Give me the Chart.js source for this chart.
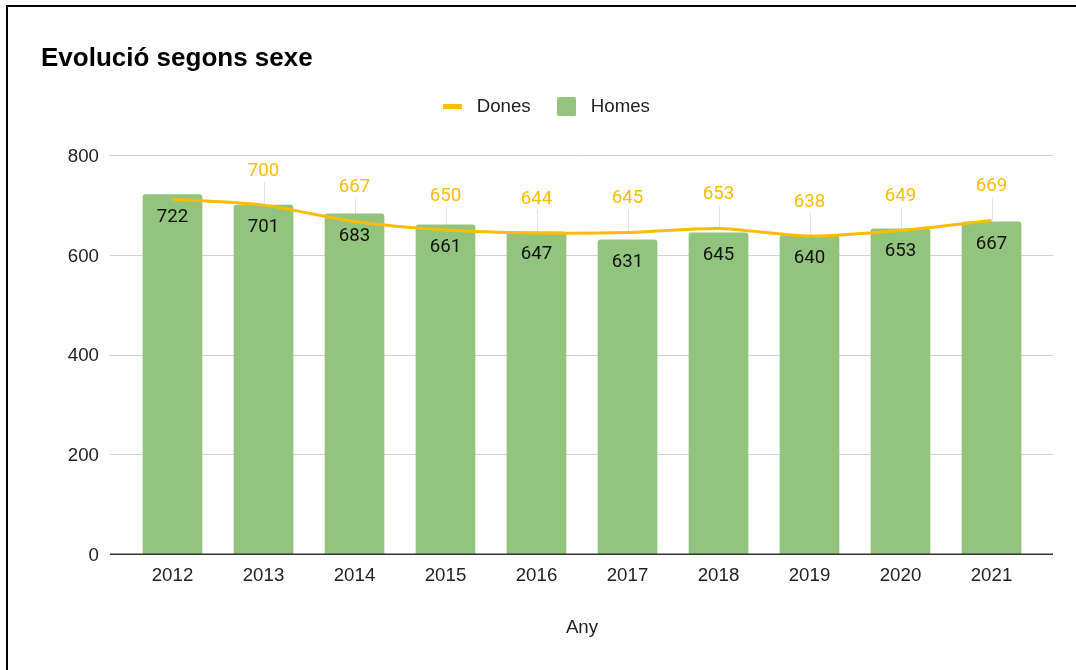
<!DOCTYPE html>
<html>
<head>
<meta charset="utf-8">
<script src="https://cdn.jsdelivr.net/npm/chart.js@4.4.0/dist/chart.umd.min.js"></script>
<style>
  body { margin: 0; background: #fff; overflow: hidden; }
  #frame { position: absolute; left: 6px; top: 5px; width: 1200px; height: 800px; border: 2px solid #000; }
  #wrap { position: absolute; left: 0; top: 0; width: 1076px; height: 670px; }
</style>
</head>
<body>
<div id="frame"></div>
<div id="wrap"><canvas id="myChart"></canvas></div>
<script>
var years = ['2012', '2013', '2014', '2015', '2016', '2017', '2018', '2019', '2020', '2021'];
var dones = [712, 700, 667, 650, 644, 645, 653, 638, 649, 669];
var homes = [722, 701, 683, 661, 647, 631, 645, 640, 653, 667];
var yMin = 0, yMax = 800, yStep = 200;

var chartTitle = 'Evolució segons sexe';
var axisTitle = 'Any';

var yellow = '#fbbc04';
var green = '#93c47d';
var fs = 18.67;

// little legend markers
function marker(w, h, color, r) {
  var c = document.createElement('canvas');
  c.width = w; c.height = h;
  var x = c.getContext('2d');
  x.fillStyle = color;
  x.beginPath();
  if (x.roundRect) x.roundRect(0, 0, w, h, r); else x.rect(0, 0, w, h);
  x.fill();
  return c;
}
var lineMark = marker(19, 5, yellow, 0);
var boxMark = marker(19, 19, green, 2);

var extras = {
  id: 'extras',
  beforeDatasetsDraw: function (chart) {
    var ctx = chart.ctx, area = chart.chartArea, y = chart.scales.y;
    ctx.save();
    // grid lines run a bit wider than the bars' area
    ctx.strokeStyle = '#d3d3d3';
    ctx.lineWidth = 1;
    for (var v = yMin + yStep; v <= yMax; v += yStep) {
      var py = Math.round(y.getPixelForValue(v)) + 0.5;
      ctx.beginPath(); ctx.moveTo(area.left - 17, py); ctx.lineTo(area.right + 16, py); ctx.stroke();
    }
    // leader lines for the Dones labels
    var meta = chart.getDatasetMeta(0);
    ctx.strokeStyle = '#e3e3e3';
    meta.data.forEach(function (pt, i) {
      if (i === 0) return;
      var px = Math.round(pt.x) + 0.5;
      ctx.beginPath(); ctx.moveTo(px, pt.y - 23); ctx.lineTo(px, pt.y); ctx.stroke();
    });
    ctx.restore();
  },
  afterDatasetsDraw: function (chart) {
    var ctx = chart.ctx, area = chart.chartArea;
    ctx.save();
    ctx.strokeStyle = '#333';
    ctx.lineWidth = 1.5;
    ctx.beginPath(); ctx.moveTo(area.left - 17, area.bottom); ctx.lineTo(area.right + 16, area.bottom); ctx.stroke();

    ctx.font = fs + 'px Roboto';
    ctx.textAlign = 'center';
    ctx.textBaseline = 'middle';
    var bars = chart.getDatasetMeta(1);
    ctx.fillStyle = '#111';
    bars.data.forEach(function (b, i) {
      ctx.fillText(homes[i], b.x, b.y + 23);
    });
    var pts = chart.getDatasetMeta(0);
    ctx.fillStyle = yellow;
    pts.data.forEach(function (p, i) {
      if (i === 0) return;
      ctx.fillText(dones[i], p.x, p.y - 34);
    });
    ctx.restore();
  },
  afterDraw: function (chart) {
    var ctx = chart.ctx;
    ctx.save();
    ctx.font = 'bold 26px "Liberation Sans"';
    ctx.fillStyle = '#000';
    ctx.textAlign = 'left';
    ctx.textBaseline = 'middle';
    ctx.fillText(chartTitle, 41, 59);
    ctx.restore();
  }
};

new Chart('myChart', {
  data: {
    labels: years,
    datasets: [{
      type: 'line',
      label: 'Dones',
      data: dones,
      borderColor: yellow,
      backgroundColor: yellow,
      borderWidth: 3,
      pointRadius: 0,
      tension: 0.25
    }, {
      type: 'bar',
      label: 'Homes',
      data: homes,
      backgroundColor: green,
      borderRadius: { topLeft: 3, topRight: 3 },
      borderSkipped: 'start',
      barPercentage: 0.656,
      categoryPercentage: 1
    }]
  },
  options: {
    responsive: true,
    maintainAspectRatio: false,
    animation: false,
    layout: { padding: { top: 76, left: 51, right: 39, bottom: 0 } },
    plugins: {
      title: { display: false },
      // empty block that keeps a gap between legend and plot
      subtitle: {
        display: true,
        text: '',
        weight: 500,
        padding: { top: 0, bottom: 19 },
        font: { size: 10, lineHeight: 1 }
      },
      tooltip: { enabled: false },
      legend: {
        position: 'top',
        labels: {
          usePointStyle: true,
          pointStyleWidth: 29.3,
          padding: 21.6,
          color: '#222',
          font: { family: '"Liberation Sans"', size: fs },
          generateLabels: function (chart) {
            var items = Chart.defaults.plugins.legend.labels.generateLabels(chart);
            items[0].pointStyle = lineMark;
            items[1].pointStyle = boxMark;
            return items;
          }
        }
      }
    },
    scales: {
      x: {
        grid: { display: false, drawTicks: false },
        border: { display: false },
        ticks: { color: '#222', padding: 10, font: { family: '"Liberation Sans"', size: fs } },
        title: {
          display: true,
          text: axisTitle,
          color: '#222',
          padding: { top: 20, bottom: 31 },
          font: { family: '"Liberation Sans"', size: fs }
        }
      },
      y: {
        min: yMin,
        max: yMax,
        grid: { display: false, drawTicks: false },
        border: { display: false },
        ticks: { stepSize: yStep, color: '#222', padding: 28, labelOffset: 1.5, font: { family: '"Liberation Sans"', size: fs } },
        afterFit: function (scale) {
          scale.width = 76;
        }
      }
    }
  },
  plugins: [extras]
});
</script>
</body>
</html>
